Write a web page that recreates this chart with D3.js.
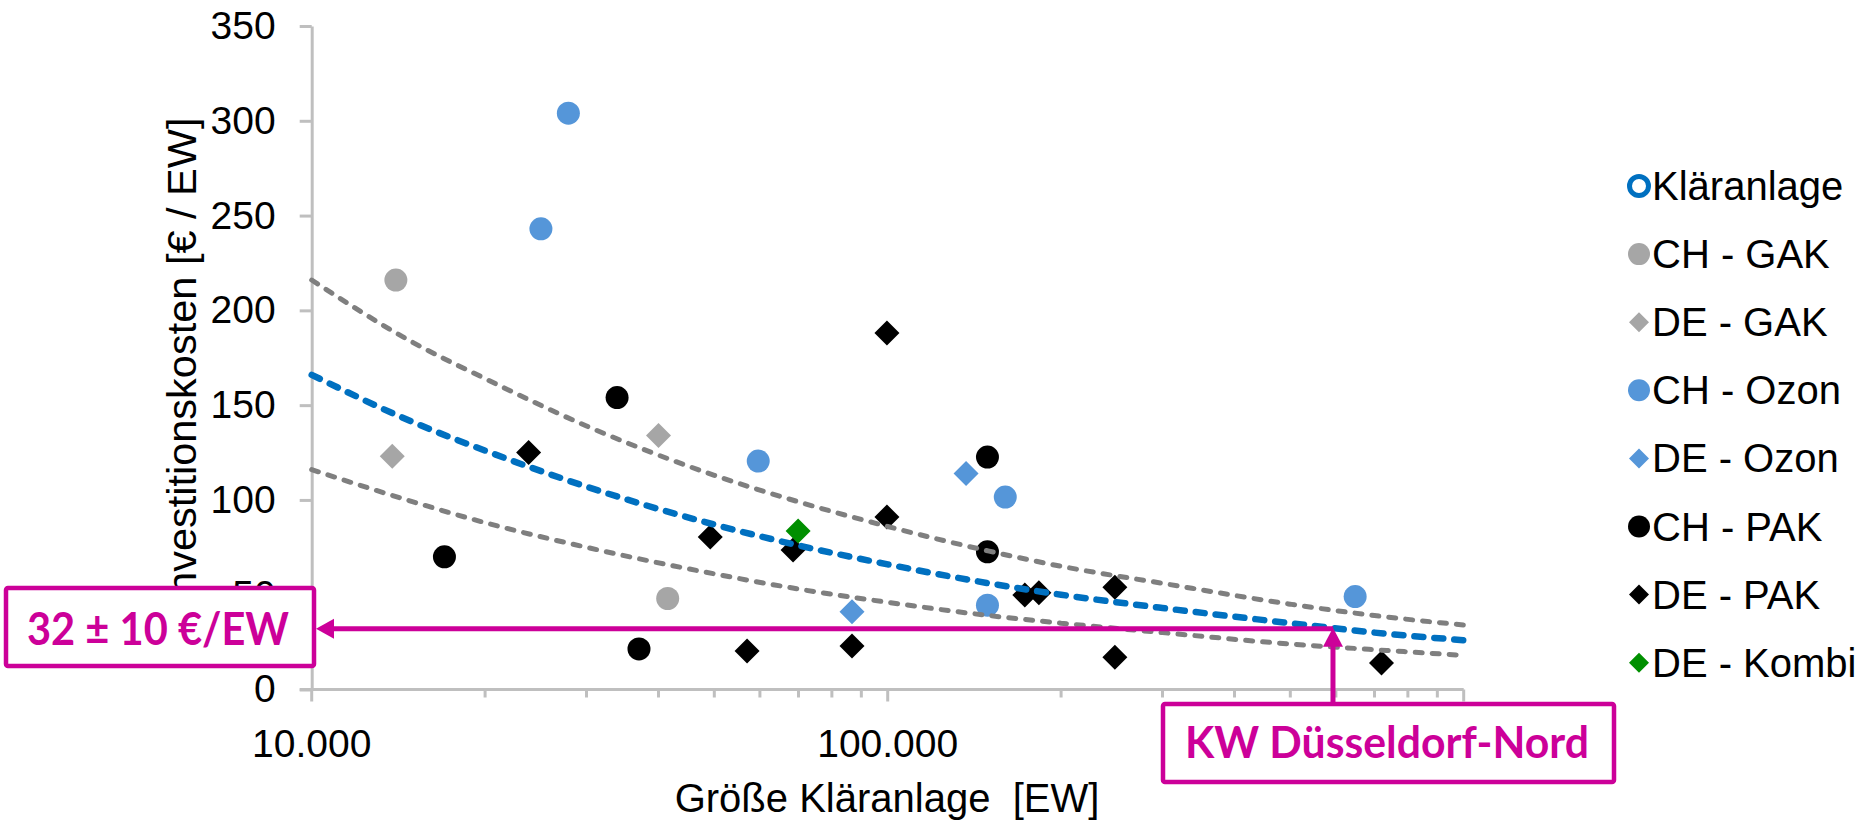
<!DOCTYPE html>
<html><head><meta charset="utf-8">
<script src="https://cdn.jsdelivr.net/npm/d3@7"></script>
<style>body{margin:0;background:#fff}svg{display:block}</style>
</head><body>
<svg id="c" width="1862" height="823"></svg>
<script>
// ---- data ----
const yTicks = [0, 50, 100, 150, 200, 250, 300, 350];
const xMajorTicks = [10000, 100000, 1000000];
const xMajorLabels = ["10.000", "100.000", ""];   // 1.000.000 is hidden behind the annotation box
const xMinorTicks = [20000, 30000, 40000, 50000, 60000, 70000, 80000, 90000,
                     200000, 300000, 400000, 500000, 600000, 700000, 800000, 900000];

const chGakX = [14000, 41500];
const chGakY = [216, 48];
const deGakX = [13800, 40000];
const deGakY = [123, 134];
const chOzonX = [25000, 27900, 59600, 149000, 160000, 648000];
const chOzonY = [243, 304, 120.5, 44.5, 101.5, 49];
const deOzonX = [86700, 136800];
const deOzonY = [41, 114];
const chPakX = [17000, 33900, 37000, 149000, 149000];
const chPakY = [70, 154, 21.4, 122.6, 72.6];
const dePakX = [23800, 49200, 57000, 68500, 86700, 99700, 99700, 173000, 183000, 248000, 248000, 720000];
const dePakY = [125, 80.4, 20.3, 73.6, 23, 188, 91, 49.8, 51, 54, 17, 14];
const deKombiX = [69900];
const deKombiY = [83.6];

const trendX = [10000, 15000, 20000, 30000, 50000, 70000, 100000, 150000, 200000, 300000, 500000, 700000, 1000000];
const trendMid = [166, 141, 126, 107, 87, 76, 66, 56, 50, 43, 35, 30, 26];
const trendUpper = [216, 183, 164, 139, 113, 99, 86, 73, 65, 56, 45, 39, 34];
const trendLower = [116, 99, 88, 75, 61, 53, 46, 39, 35, 30, 24, 21, 18];

const legendNames = ["Kläranlage", "CH - GAK", "DE - GAK", "CH - Ozon", "DE - Ozon", "CH - PAK", "DE - PAK", "DE - Kombi"];
const markedX = 593000;   // KW Düsseldorf-Nord
const markedY = 32;
const annoValue = "32 ± 10 €/EW";
const annoPlant = "KW Düsseldorf-Nord";

// ---- layout / style ----
const svg = d3.select("#c");
const FONT = "'Liberation Sans', Arial, sans-serif";
const AFONT = "Lato, 'Open Sans', sans-serif";
const MAG = "#cc0099";
const x = d3.scaleLog().domain([1e4, 1e6]).range([311.7, 1463.7]);
const y = d3.scaleLinear().domain([0, 350]).range([689.5, 26]);

const series = [
  {name: "CH - GAK", xs: chGakX, ys: chGakY, shape: "circle", color: "#a6a6a6"},
  {name: "DE - GAK", xs: deGakX, ys: deGakY, shape: "diamond", color: "#a6a6a6"},
  {name: "CH - Ozon", xs: chOzonX, ys: chOzonY, shape: "circle", color: "#5596d9"},
  {name: "DE - Ozon", xs: deOzonX, ys: deOzonY, shape: "diamond", color: "#5596d9"},
  {name: "CH - PAK", xs: chPakX, ys: chPakY, shape: "circle", color: "#000000"},
  {name: "DE - PAK", xs: dePakX, ys: dePakY, shape: "diamond", color: "#000000"},
  {name: "DE - Kombi", xs: deKombiX, ys: deKombiY, shape: "diamond", color: "#008f00"}
];
const diamond = h => `M0,${-h}L${h},0L0,${h}L${-h},0Z`;

// ---- y axis ----
const yAxis = svg.append("g").attr("transform", `translate(${x.range()[0]},0)`)
  .call(d3.axisLeft(y).tickValues(yTicks).tickSize(12).tickPadding(24).tickSizeOuter(0));
yAxis.select(".domain").attr("stroke", "#bfbfbf").attr("stroke-width", 3);
yAxis.selectAll(".tick line").attr("stroke", "#bfbfbf").attr("stroke-width", 3);
yAxis.selectAll(".tick text").attr("font-family", FONT).attr("font-size", 39).attr("fill", "#000");

// ---- x axis ----
const xg = svg.append("g");
xg.append("line").attr("x1", x.range()[0] - 12).attr("x2", x.range()[1])
  .attr("y1", y(0)).attr("y2", y(0)).attr("stroke", "#bfbfbf").attr("stroke-width", 3);
xg.selectAll("line.mn").data(xMinorTicks).join("line").attr("class", "mn")
  .attr("x1", d => x(d)).attr("x2", d => x(d)).attr("y1", y(0)).attr("y2", y(0) + 8)
  .attr("stroke", "#bfbfbf").attr("stroke-width", 3);
xg.selectAll("line.mj").data(xMajorTicks).join("line").attr("class", "mj")
  .attr("x1", d => x(d)).attr("x2", d => x(d)).attr("y1", y(0)).attr("y2", y(0) + 12)
  .attr("stroke", "#bfbfbf").attr("stroke-width", 3);
xg.selectAll("text").data(xMajorTicks.filter((d, i) => xMajorLabels[i])).join("text")
  .attr("x", d => x(d)).attr("y", 757).attr("text-anchor", "middle")
  .attr("font-family", FONT).attr("font-size", 39).text((d, i) => xMajorLabels[i]);

// axis titles
svg.append("text").attr("x", 887).attr("y", 812).attr("text-anchor", "middle")
  .attr("font-family", FONT).attr("font-size", 40).style("white-space", "pre")
  .text("Größe Kläranlage  [EW]");
svg.append("text").attr("transform", "translate(196,362) rotate(-90)").attr("text-anchor", "middle")
  .attr("font-family", FONT).attr("font-size", 41.5).text("Investitionskosten [€ / EW]");

// ---- markers ----
series.forEach(s => {
  const pts = s.xs.map((v, i) => [v, s.ys[i]]);
  const g = svg.append("g");
  if (s.shape === "circle") {
    g.selectAll("circle").data(pts).join("circle")
      .attr("cx", d => x(d[0])).attr("cy", d => y(d[1])).attr("r", 11.5).attr("fill", s.color);
  } else {
    g.selectAll("path").data(pts).join("path")
      .attr("transform", d => `translate(${x(d[0])},${y(d[1])})`).attr("d", diamond(12.5)).attr("fill", s.color);
  }
});

// ---- trend lines ----
const line = d3.line().x(d => x(d[0])).y(d => y(d[1])).curve(d3.curveMonotoneX);
[[trendUpper, "#7f7f7f", 5, "7,10"], [trendLower, "#7f7f7f", 5, "7,10"], [trendMid, "#0070c0", 6.5, "9,11"]]
  .forEach(([vals, col, w, dash]) => {
    svg.append("path").datum(trendX.map((v, i) => [v, vals[i]])).attr("d", line)
      .attr("fill", "none").attr("stroke", col).attr("stroke-width", w)
      .attr("stroke-dasharray", dash).attr("stroke-linecap", "round");
  });

// ---- legend ----
const lg = svg.append("g");
const lx = 1639, ly0 = 186, ldy = 68.1;
legendNames.forEach((n, i) => {
  const yy = ly0 + i * ldy;
  if (i === 0) {
    lg.append("circle").attr("cx", lx).attr("cy", yy).attr("r", 9.5).attr("fill", "#fff")
      .attr("stroke", "#0070c0").attr("stroke-width", 5);
  } else {
    const s = series[i - 1];
    if (s.shape === "circle") lg.append("circle").attr("cx", lx).attr("cy", yy).attr("r", 11).attr("fill", s.color);
    else lg.append("path").attr("transform", `translate(${lx},${yy})`).attr("d", diamond(10)).attr("fill", s.color);
  }
  lg.append("text").attr("x", lx + 13).attr("y", yy + 14).attr("font-family", FONT)
    .attr("font-size", 40).text(n);
});

// ---- annotations ----
const ax = x(markedX), ay = y(markedY);
const an = svg.append("g");
// box 1
an.append("rect").attr("x", 6).attr("y", 588).attr("width", 308).attr("height", 78)
  .attr("fill", "#fff").attr("stroke", MAG).attr("stroke-width", 4.5).attr("rx", 2);
an.append("text").attr("x", 158).attr("y", 645).attr("text-anchor", "middle")
  .attr("font-family", AFONT).attr("font-weight", 700).attr("font-size", 45).attr("fill", MAG)
  .attr("textLength", 262).attr("lengthAdjust", "spacingAndGlyphs").text(annoValue);
// box 2
an.append("rect").attr("x", 1163).attr("y", 704).attr("width", 451).attr("height", 78)
  .attr("fill", "#fff").attr("stroke", MAG).attr("stroke-width", 4.5).attr("rx", 2);
an.append("text").attr("x", 1387).attr("y", 758).attr("text-anchor", "middle")
  .attr("font-family", AFONT).attr("font-weight", 700).attr("font-size", 43).attr("fill", MAG)
  .attr("textLength", 404).attr("lengthAdjust", "spacingAndGlyphs").text(annoPlant);
// connector lines
an.append("line").attr("x1", 330).attr("x2", ax).attr("y1", ay).attr("y2", ay)
  .attr("stroke", MAG).attr("stroke-width", 5);
an.append("line").attr("x1", ax).attr("x2", ax).attr("y1", ay + 16).attr("y2", 704)
  .attr("stroke", MAG).attr("stroke-width", 5);
an.append("path").attr("d", `M316,${ay}L334,${ay - 10}L334,${ay + 10}Z`).attr("fill", MAG);
an.append("path").attr("d", `M${ax},${ay - 1}L${ax - 10},${ay + 18}L${ax + 10},${ay + 18}Z`).attr("fill", MAG);
</script>
</body></html>
